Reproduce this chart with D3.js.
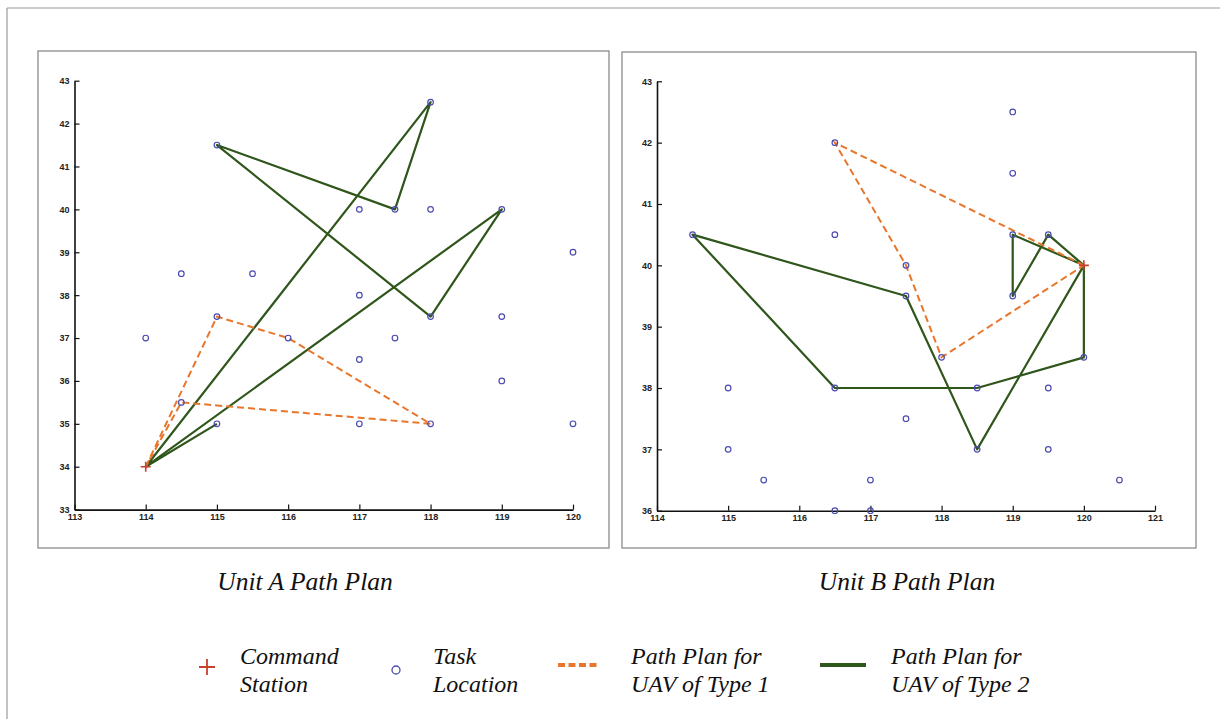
<!DOCTYPE html>
<html><head><meta charset="utf-8">
<script src="https://cdn.jsdelivr.net/npm/d3@7"></script>
<style>body{margin:0;background:#fff}svg{display:block}</style>
</head><body>
<svg id="c" width="1224" height="719"></svg>
<script>
// ---- data ----
const unitATicksX = [113,114,115,116,117,118,119,120];
const unitATicksY = [33,34,35,36,37,38,39,40,41,42,43];
const unitAStation = [114,34];
const unitATasks = [[114,37],[114.5,38.5],[115.5,38.5],[114.5,35.5],[115,37.5],[116,37],[115,35],[115,41.5],[117,40],[117.5,40],[118,40],[118,42.5],[117,38],[117,36.5],[117.5,37],[118,37.5],[119,37.5],[119,40],[119,36],[117,35],[118,35],[120,39],[120,35]];
const unitAType1 = [[[114,34],[115,37.5],[116,37],[118,35],[114.5,35.5],[114,34]]];
const unitAType2 = [[[114,34],[118,42.5],[117.5,40],[115,41.5],[118,37.5],[119,40],[114,34]],[[114,34],[115,35]]];

const unitBTicksX = [114,115,116,117,118,119,120,121];
const unitBTicksY = [36,37,38,39,40,41,42,43];
const unitBStation = [120,40];
const unitBTasks = [[116.5,42],[114.5,40.5],[116.5,40.5],[117.5,40],[117.5,39.5],[119,42.5],[119,41.5],[119,40.5],[119.5,40.5],[119,39.5],[115,38],[115,37],[115.5,36.5],[117,36.5],[116.5,36],[117,36],[116.5,38],[117.5,37.5],[118,38.5],[118.5,38],[119.5,38],[118.5,37],[119.5,37],[120.5,36.5],[120,38.5]];
const unitBType1 = [[[120,40],[116.5,42],[117.5,40],[118,38.5],[120,40]]];
const unitBType2 = [[[120,40],[119,40.5],[119,39.5],[119.5,40.5],[120,40]],[[120,40],[120,38.5],[118.5,38],[116.5,38],[114.5,40.5],[117.5,39.5],[118.5,37],[120,40]]];

const titles = ["Unit A Path Plan","Unit B Path Plan"];
const legendLabels = [["Command","Station"],["Task","Location"],["Path Plan for","UAV of Type 1"],["Path Plan for","UAV of Type 2"]];

// ---- styles ----
const GREEN = "#2f561b", ORANGE = "#e8762c", BLUE = "#4b4bb0", RED = "#c8402a";
const svg = d3.select("#c");

// outer border (top + left)
svg.append("line").attr("x1",7).attr("y1",8).attr("x2",1220).attr("y2",8).attr("stroke","#9a9a9a").attr("stroke-width",1.2);
svg.append("line").attr("x1",7).attr("y1",8).attr("x2",7).attr("y2",719).attr("stroke","#9a9a9a").attr("stroke-width",1.2);

function panel(cfg){
  svg.append("rect").attr("x",cfg.box[0]).attr("y",cfg.box[1]).attr("width",cfg.box[2]).attr("height",cfg.box[3])
    .attr("fill","#fff").attr("stroke","#8a8a8a").attr("stroke-width",1.3);
  const x = d3.scaleLinear().domain(d3.extent(cfg.tx)).range(cfg.xr);
  const y = d3.scaleLinear().domain(d3.extent(cfg.ty)).range(cfg.yr);
  const g = svg.append("g");
  const xa = g.append("g").attr("transform",`translate(0,${cfg.yr[0]})`)
    .call(d3.axisBottom(x).tickValues(cfg.tx).tickSizeInner(-5).tickSizeOuter(0).tickPadding(4).tickFormat(d3.format("d")));
  const ya = g.append("g").attr("transform",`translate(${cfg.xr[0]},0)`)
    .call(d3.axisLeft(y).tickValues(cfg.ty).tickSizeInner(-5).tickSizeOuter(0).tickPadding(5).tickFormat(d3.format("d")));
  [xa,ya].forEach(a=>{
    a.select(".domain").attr("stroke","#111").attr("stroke-width",1.6);
    a.selectAll(".tick line").attr("stroke","#111").attr("stroke-width",1.2);
    a.selectAll("text").attr("font-family","Liberation Sans, Arial, sans-serif").attr("font-size",9).attr("font-weight","bold").attr("fill","#222");
  });
  const line = d3.line().x(d=>x(d[0])).y(d=>y(d[1]));
  g.selectAll("path.t2").data(cfg.t2).join("path").attr("class","t2").attr("d",line)
    .attr("fill","none").attr("stroke",GREEN).attr("stroke-width",2.2).attr("stroke-linejoin","round");
  g.selectAll("path.t1").data(cfg.t1).join("path").attr("class","t1").attr("d",line)
    .attr("fill","none").attr("stroke",ORANGE).attr("stroke-width",2).attr("stroke-dasharray","7,4");
  g.selectAll("circle.task").data(cfg.tasks).join("circle").attr("class","task")
    .attr("cx",d=>x(d[0])).attr("cy",d=>y(d[1])).attr("r",2.8)
    .attr("fill","none").attr("stroke",BLUE).attr("stroke-width",1.2);
  const s = cfg.station, sx = x(s[0]), sy = y(s[1]);
  g.append("path").attr("d",`M${sx-5},${sy}H${sx+5}M${sx},${sy-5}V${sy+5}`).attr("stroke",RED).attr("stroke-width",1.6);
  svg.append("text").attr("x",cfg.titleX).attr("y",590).attr("text-anchor","middle")
    .attr("font-family","Liberation Serif, Times New Roman, serif").attr("font-style","italic").attr("font-size",25.5).attr("fill","#111")
    .text(cfg.title);
}

panel({box:[38,51,571,497], tx:unitATicksX, ty:unitATicksY, xr:[74.5,573], yr:[509.6,80.7],
  tasks:unitATasks, station:unitAStation, t1:unitAType1, t2:unitAType2, title:titles[0], titleX:305});
panel({box:[622,52,574,496], tx:unitBTicksX, ty:unitBTicksY, xr:[657,1155], yr:[510.7,81.3],
  tasks:unitBTasks, station:unitBStation, t1:unitBType1, t2:unitBType2, title:titles[1], titleX:907});

// ---- legend ----
const lg = svg.append("g");
lg.append("path").attr("d","M199,667H215M207,659V675").attr("stroke",RED).attr("stroke-width",1.8);
lg.append("circle").attr("cx",396).attr("cy",670).attr("r",4).attr("fill","none").attr("stroke",BLUE).attr("stroke-width",1.3);
lg.append("line").attr("x1",558).attr("x2",598).attr("y1",665).attr("y2",665).attr("stroke",ORANGE).attr("stroke-width",4).attr("stroke-dasharray","7,3.5");
lg.append("line").attr("x1",820).attr("x2",866).attr("y1",665).attr("y2",665).attr("stroke",GREEN).attr("stroke-width",4);
const lx = [240,433,631,891];
legendLabels.forEach((lab,i)=>{
  lab.forEach((t,j)=>{
    lg.append("text").attr("x",lx[i]).attr("y",664+j*28)
      .attr("font-family","Liberation Serif, Times New Roman, serif").attr("font-style","italic").attr("font-size",24).attr("fill","#111").text(t);
  });
});
</script>
</body></html>
